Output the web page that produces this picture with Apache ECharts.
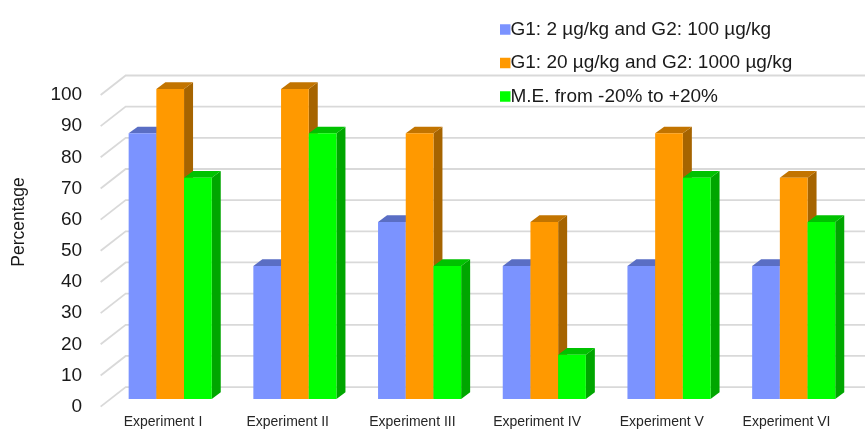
<!DOCTYPE html>
<html><head><meta charset="utf-8">
<style>html,body{margin:0;padding:0;background:#fff}#c{width:865px;height:432px}</style>
<script src="https://cdn.jsdelivr.net/npm/echarts@6/dist/echarts.min.js"></script>
</head><body><div id="c"></div>
<script>
var categories = ['Experiment I','Experiment II','Experiment III','Experiment IV','Experiment V','Experiment VI'];
var ticks = [0,10,20,30,40,50,60,70,80,90,100];
var lowDose = [85.7,42.9,57.1,42.9,42.9,42.9];
var highDose = [100,100,85.7,57.1,85.7,71.4];
var meRange = [71.4,85.7,42.9,14.3,71.4,57.1];
var seriesNames = ['G1: 2 µg/kg and G2: 100 µg/kg','G1: 20 µg/kg and G2: 1000 µg/kg','M.E. from -20% to +20%'];

var FONT = '"Liberation Sans", Arial, sans-serif';
var BAR_W = 27.7, DX = 9, DY = 6.7;

function bar3d(slot, front, top, side) {
  return function (params, api) {
    var p = api.coord([api.value(0), api.value(1)]);
    var base = api.coord([api.value(0), 0]);
    var l = p[0] + (slot - 0.5) * BAR_W, r = l + BAR_W, t = p[1], b = base[1];
    return { type: 'group', children: [
      { type: 'polygon', shape: { points: [[r,t],[r+DX,t-DY],[r+DX,b-DY],[r,b]] }, style: { fill: side } },
      { type: 'polygon', shape: { points: [[l,t],[r,t],[r+DX,t-DY],[l+DX,t-DY]] }, style: { fill: top } },
      { type: 'rect', shape: { x: l, y: t, width: BAR_W, height: b - t }, style: { fill: front } }
    ]};
  };
}
function barSeries(i, vals, front, top, side) {
  return {
    type: 'custom', name: seriesNames[i], coordinateSystem: 'cartesian2d',
    xAxisIndex: 0, yAxisIndex: 0, z: 5 + i, clip: false,
    itemStyle: { color: front },
    encode: { x: 0, y: 1 },
    renderItem: bar3d(i - 1, front, top, side),
    data: vals.map(function (v, k) { return [k, v]; })
  };
}
function wallLines(params, api) {
  var y = api.coord([0, api.value(1)])[1];
  var x0 = params.coordSys.x;
  return { type: 'polyline', shape: { points: [[x0, y], [x0 + 25, y - 19.5], [api.getWidth(), y - 19.5]] },
    style: { fill: null, stroke: '#d9d9d9', lineWidth: 1.8 } };
}
var chart = echarts.init(document.getElementById('c'), null, { renderer: 'canvas' });
chart.setOption({
  animation: false,
  backgroundColor: '#fff',
  grid: [
    { left: 107.85, width: 748.2, top: 89, height: 310 },
    { left: 100.65, width: 748.2, top: 95, height: 311.6 }
  ],
  xAxis: [
    { type: 'category', gridIndex: 0, data: categories, show: false },
    { type: 'category', gridIndex: 1, data: categories,
      axisLine: { show: false }, axisTick: { show: false }, splitLine: { show: false },
      axisLabel: { margin: 9, fontSize: 14, color: '#262626', fontFamily: FONT, interval: 0 } }
  ],
  yAxis: [
    { type: 'value', gridIndex: 0, min: 0, max: 100, interval: 10, show: false },
    { type: 'value', gridIndex: 1, min: 0, max: 100, interval: 10,
      axisLine: { show: false }, axisTick: { show: false }, splitLine: { show: false },
      axisLabel: { margin: 18.5, fontSize: 19, color: '#1a1a1a', fontFamily: FONT } }
  ],
  legend: {
    orient: 'vertical', left: 495, top: 15, itemWidth: 10.5, itemHeight: 10.5, itemGap: 14.5,
    icon: 'rect', data: seriesNames, selectedMode: false,
    textStyle: { fontSize: 19, color: '#1a1a1a', fontFamily: FONT, padding: [0,0,0,-5] }
  },
  graphic: [{
    type: 'text', x: 19, y: 222, rotation: Math.PI / 2,
    style: { text: 'Percentage', fontSize: 17.5, fill: '#1a1a1a', fontFamily: FONT, align: 'center', verticalAlign: 'middle' }
  }],
  series: [
    { type: 'custom', xAxisIndex: 1, yAxisIndex: 1, z: 1, silent: true, clip: false,
      encode: { x: 0, y: 1 }, renderItem: wallLines,
      data: ticks.map(function (t) { return [0, t]; }) },
    barSeries(0, lowDose, '#7b93ff', '#5a6ec4', '#5a6ec4'),
    barSeries(1, highDose, '#ff9900', '#c27400', '#a66400'),
    barSeries(2, meRange, '#00ff00', '#00c200', '#00a600')
  ]
});
</script></body></html>
